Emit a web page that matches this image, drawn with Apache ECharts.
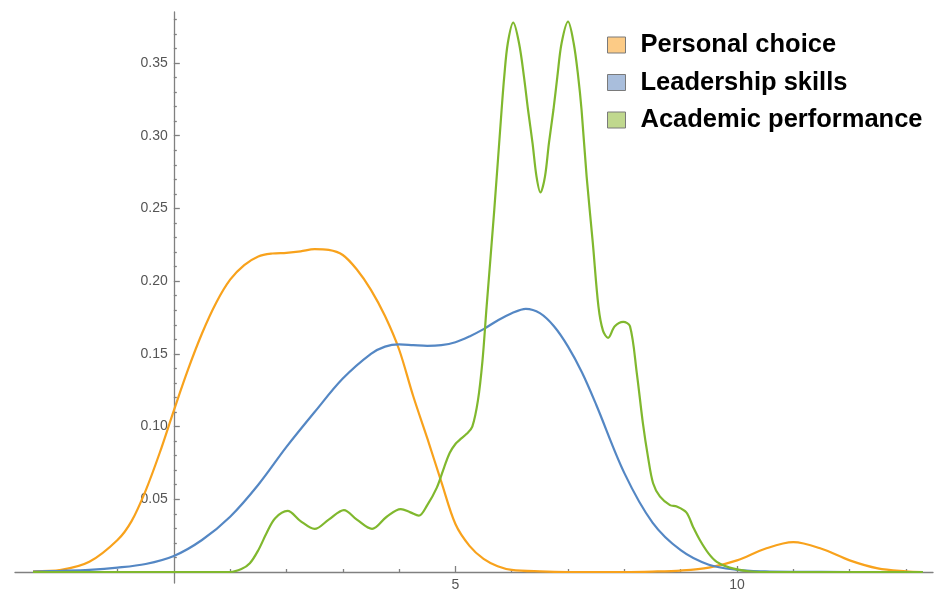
<!DOCTYPE html>
<html>
<head>
<meta charset="utf-8">
<script src="https://cdn.jsdelivr.net/npm/echarts@6/dist/echarts.min.js"></script>
<style>
  html, body { margin: 0; padding: 0; background: #fff; }
  #chart { width: 939px; height: 590px; }
</style>
</head>
<body>
<div id="chart"></div>
<script>
// Smoothed distribution curves for three selection factors (x = score, y = density)
const seriesNames = ['Personal choice', 'Leadership skills', 'Academic performance'];

const personalX = [-2.5, -2, -1.5, -1, -0.75, -0.5, -0.25, 0, 0.25, 0.5, 0.75, 1, 1.25, 1.5, 1.75, 2, 2.25, 2.5, 2.75, 3, 3.25, 3.5, 3.75, 4, 4.25, 4.5, 4.75, 5, 5.25, 5.5, 5.75, 6, 6.5, 7, 8, 8.5, 9, 9.5, 10, 10.5, 11, 11.5, 12, 12.5, 13, 13.3];
const personalY = [0.0005, 0.0015, 0.007, 0.022, 0.035, 0.056, 0.082, 0.111, 0.139, 0.164, 0.185, 0.201, 0.211, 0.217, 0.219, 0.2195, 0.2205, 0.222, 0.2215, 0.218, 0.208, 0.194, 0.176, 0.153, 0.121, 0.092, 0.062, 0.033, 0.018, 0.009, 0.004, 0.0015, 0.0004, 0, 0, 0.0003, 0.001, 0.003, 0.008, 0.016, 0.0205, 0.016, 0.008, 0.0025, 0.0005, 0];

const leadershipX = [-2.5, -2, -1.5, -1, -0.5, 0, 0.5, 1, 1.5, 2, 2.5, 3, 3.5, 3.75, 4, 4.25, 4.5, 4.75, 5, 5.25, 5.5, 5.75, 6, 6.25, 6.5, 6.75, 7, 7.25, 7.5, 8, 8.5, 9, 9.5, 10, 10.5, 11, 12, 13.3];
const leadershipY = [0.0003, 0.0008, 0.0015, 0.003, 0.0055, 0.011, 0.022, 0.038, 0.06, 0.086, 0.11, 0.133, 0.15, 0.155, 0.1565, 0.156, 0.1555, 0.156, 0.158, 0.162, 0.167, 0.173, 0.178, 0.181, 0.178, 0.169, 0.155, 0.137, 0.115, 0.068, 0.034, 0.015, 0.005, 0.0015, 0.0004, 0.0001, 0, 0];

const academicX = [-2.5, 0, 1, 1.2, 1.35, 1.5, 1.65, 1.8, 2.02, 2.25, 2.5, 2.75, 3.02, 3.25, 3.52, 3.78, 4.03, 4.2, 4.35, 4.5, 4.67, 4.8, 4.9, 5.0, 5.08, 5.2, 5.3, 5.4, 5.48, 5.554, 5.69, 5.82, 5.867, 5.93, 6.027, 6.13, 6.217, 6.29, 6.37, 6.44, 6.51, 6.59, 6.66, 6.74, 6.81, 6.885, 7.0, 7.1, 7.18, 7.24, 7.33, 7.44, 7.54, 7.62, 7.71, 7.83, 7.98, 8.1, 8.22, 8.33, 8.42, 8.51, 8.63, 8.81, 8.93, 9.1, 9.22, 9.34, 9.49, 9.64, 9.87, 10.2, 10.5, 13.3];
const academicY = [0, 0, 0, 0.002, 0.006, 0.015, 0.027, 0.037, 0.042, 0.035, 0.0296, 0.036, 0.0426, 0.036, 0.0296, 0.038, 0.0433, 0.041, 0.0387, 0.046, 0.058, 0.072, 0.082, 0.088, 0.091, 0.095, 0.1, 0.118, 0.145, 0.1825, 0.249, 0.3177, 0.3407, 0.3636, 0.3778, 0.3636, 0.3407, 0.3177, 0.2948, 0.2719, 0.261, 0.2719, 0.2948, 0.3177, 0.3407, 0.3636, 0.3785, 0.3636, 0.3407, 0.3177, 0.2719, 0.2261, 0.1825, 0.166, 0.161, 0.169, 0.172, 0.169, 0.137, 0.102, 0.079, 0.061, 0.052, 0.046, 0.045, 0.041, 0.031, 0.022, 0.013, 0.007, 0.003, 0.0005, 0, 0];

const xMajorTicks = [5, 10];
const xMinorTicks = [-2, -1, 1, 2, 3, 4, 6, 7, 8, 9, 11, 12, 13];
const yMajorTicks = [0.05, 0.1, 0.15, 0.2, 0.25, 0.3, 0.35];
const yMinorTicks = [0.01, 0.02, 0.03, 0.04, 0.06, 0.07, 0.08, 0.09, 0.11, 0.12, 0.13, 0.14, 0.16, 0.17, 0.18, 0.19, 0.21, 0.22, 0.23, 0.24, 0.26, 0.27, 0.28, 0.29, 0.31, 0.32, 0.33, 0.34, 0.36, 0.37, 0.38];

const lineColors = ['#F8A21C', '#5487C4', '#80B82E'];
const swatchColors = ['#FCCB86', '#A9BEDC', '#C0D88E'];

const zip = (xs, ys) => xs.map((x, i) => [x, ys[i]]);
const seriesData = [zip(personalX, personalY), zip(leadershipX, leadershipY), zip(academicX, academicY)];

const axisGray = '#808080';
const labelFont = { fontFamily: 'Liberation Sans', fontSize: 14, color: '#555' };

// plot box and value ranges
const box = { left: 15, right: 6, top: 12, bottom: 7 };
const xRange = { min: -2.82, max: 13.48 };
const yRange = { min: -0.00757, max: 0.3851 };
const plotW = 939 - box.left - box.right;
const plotH = 590 - box.top - box.bottom;
// shift the axes so they cross at the origin
const yAxisShift = -(0 - xRange.min) / (xRange.max - xRange.min) * plotW;
const xAxisShift = -(0 - yRange.min) / (yRange.max - yRange.min) * plotH;

const chart = echarts.init(document.getElementById('chart'), null, { renderer: 'canvas' });
chart.setOption({
  animation: false,
  backgroundColor: '#fff',
  grid: { ...box, containLabel: false, outerBoundsMode: 'none' },
  legend: {
    orient: 'vertical',
    left: 607,
    top: 31,
    padding: 0,
    itemWidth: 18,
    itemHeight: 16,
    itemGap: 9.5,
    icon: 'rect',
    data: seriesNames.map((n, i) => ({
      name: n,
      itemStyle: { color: swatchColors[i], borderColor: '#7a7a7a', borderWidth: 1 }
    })),
    textStyle: {
      fontFamily: 'Liberation Sans',
      fontWeight: 'bold',
      fontSize: 25.5,
      color: '#000',
      lineHeight: 28,
      padding: [0, 0, 0, 10]
    }
  },
  xAxis: [
    {
      type: 'value', min: xRange.min, max: xRange.max, position: 'bottom', offset: xAxisShift,
      axisLine: { onZero: false, lineStyle: { color: axisGray, width: 1.3 } },
      axisTick: { inside: true, length: 6, customValues: xMajorTicks, lineStyle: { color: axisGray, width: 1.3 } },
      axisLabel: { customValues: xMajorTicks, margin: 6, ...labelFont },
      splitLine: { show: false }
    },
    {
      type: 'value', min: xRange.min, max: xRange.max, position: 'bottom', offset: xAxisShift,
      axisLine: { show: false, onZero: false },
      axisTick: { inside: true, length: 3, customValues: xMinorTicks, lineStyle: { color: axisGray, width: 1.3 } },
      axisLabel: { show: false },
      splitLine: { show: false }
    }
  ],
  yAxis: [
    {
      type: 'value', min: yRange.min, max: yRange.max, position: 'left', offset: yAxisShift,
      axisLine: { show: true, onZero: false, lineStyle: { color: axisGray, width: 1.3 } },
      axisTick: { inside: true, length: 6, customValues: yMajorTicks, lineStyle: { color: axisGray, width: 1.3 } },
      axisLabel: { customValues: yMajorTicks, margin: 6, formatter: v => v.toFixed(2), ...labelFont },
      splitLine: { show: false }
    },
    {
      type: 'value', min: yRange.min, max: yRange.max, position: 'left', offset: yAxisShift,
      axisLine: { show: false, onZero: false },
      axisTick: { inside: true, length: 3, customValues: yMinorTicks, lineStyle: { color: axisGray, width: 1.3 } },
      axisLabel: { show: false },
      splitLine: { show: false }
    }
  ],
  series: seriesNames.map((n, i) => ({
    name: n,
    type: 'line',
    xAxisIndex: 0,
    yAxisIndex: 0,
    data: seriesData[i],
    showSymbol: false,
    smooth: 0.33,
    lineStyle: { color: lineColors[i], width: 2.2 },
    itemStyle: { color: lineColors[i] },
    z: 2 + i
  }))
});
</script>
</body>
</html>
